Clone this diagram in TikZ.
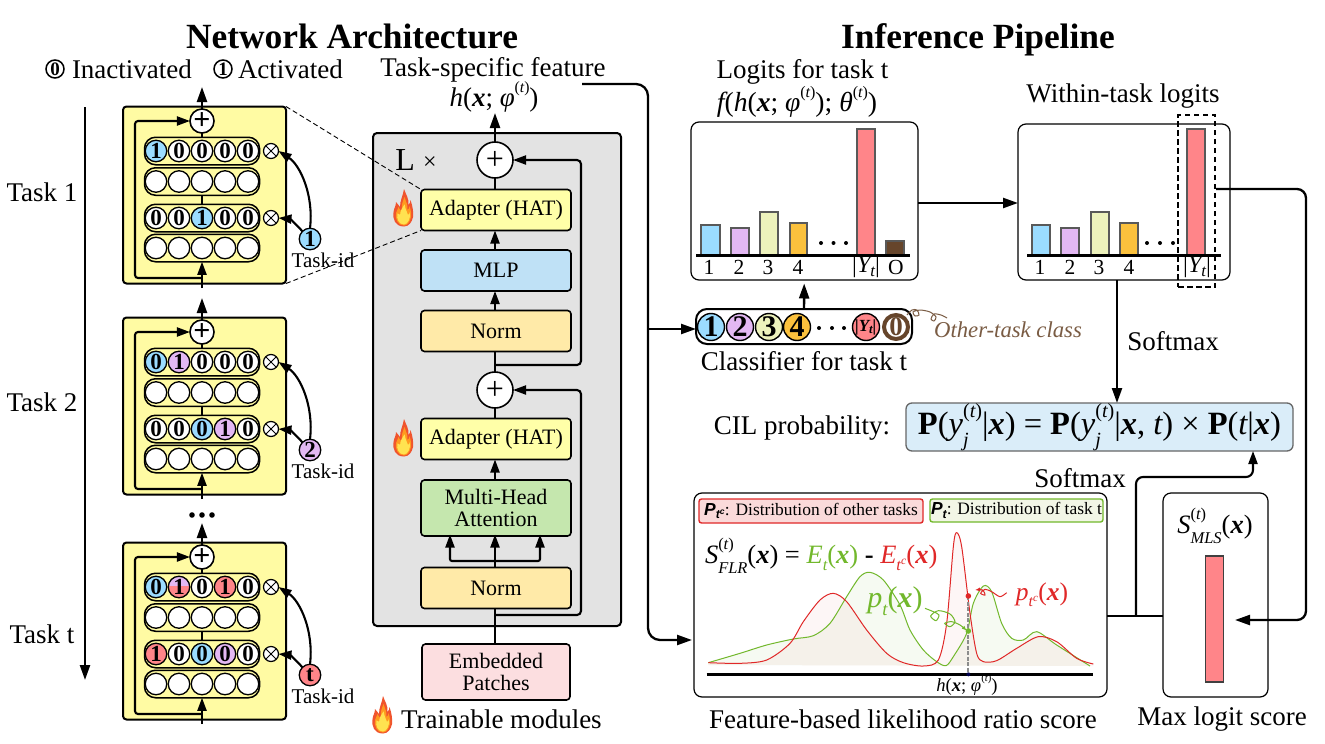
\documentclass[tikz,border=0pt]{standalone}
\usepackage{fontspec}
\setmainfont{Liberation Serif}
\newfontfamily\lsans{Liberation Sans}
\usetikzlibrary{arrows.meta,calc}
\definecolor{cblock}{HTML}{FFFBA3}
\definecolor{cadapt}{HTML}{FFFFA8}
\definecolor{cmlp}{HTML}{BFE1F6}
\definecolor{cnorm}{HTML}{FFEAA8}
\definecolor{cmha}{HTML}{C5E7AE}
\definecolor{cpatch}{HTML}{FCDEE0}
\definecolor{cgrey}{HTML}{E3E3E3}
\definecolor{cprob}{HTML}{DAEDF9}
\definecolor{cb}{HTML}{9BDCFF}
\definecolor{cp}{HTML}{E3B8F3}
\definecolor{cg}{HTML}{EDF2BC}
\definecolor{co}{HTML}{FBC13D}
\definecolor{cr}{HTML}{FF8589}
\definecolor{cbr}{HTML}{66452B}
\definecolor{cbrt}{HTML}{7A5C44}
\definecolor{gline}{HTML}{72B82C}
\definecolor{rline}{HTML}{E02828}
\definecolor{rleg}{HTML}{FADADA}
\definecolor{gleg}{HTML}{F2F6E6}
\newcommand\fsz[1]{\fontsize{#1}{#1}\selectfont}
\newcommand\bx{{\bfseries\itshape x}}
\newcommand\supsub[2]{\ooalign{\raisebox{.52em}{\scalebox{.62}{#1}}\cr\raisebox{-.38em}{\scalebox{.62}{#2}}\cr}}
\newcommand\sups[1]{\raisebox{.52em}{\scalebox{.58}{#1}}}
\newcommand\pt{{\upshape(}{\itshape t}{\upshape)}}
\newcommand\hfeat{{\itshape h}(\bx; {\itshape φ}\sups{\pt})}
\newcommand\Yt{|{\itshape Y}\raisebox{-.15em}{\scalebox{.7}{\itshape t}}|}
\tikzset{
  lbl/.style={inner sep=0pt,outer sep=0pt,font=\fsz{27},align=center},
  ttl/.style={inner sep=0pt,font=\fsz{35.4}\bfseries,anchor=base},
  line/.style={line width=2.3pt,draw=black},
  conn/.style={line width=2.3pt,draw=black,-{Triangle[length=15pt,width=10pt]}},
  smallconn/.style={line width=2.1pt,draw=black,-{Triangle[length=13pt,width=9pt]}},
  modbox/.style={draw=black,line width=1.6pt,rounded corners=3.5pt,minimum width=150pt,align=center,inner sep=0pt,outer sep=0pt,font=\fsz{22}},
  yblock/.style={draw=black,line width=2pt,fill=cblock,rounded corners=3.5pt,minimum width=163pt,minimum height=177pt,inner sep=0pt,outer sep=0pt},
  pill/.style={draw=black,line width=1.5pt,fill=cblock,rounded corners=11pt,minimum width=115pt,minimum height=27.5pt,inner sep=0pt,outer sep=0pt},
  cell/.style={circle,draw=black,line width=1.3pt,fill=white,minimum size=21.5pt,inner sep=0pt,outer sep=0pt,font=\fsz{23}\bfseries},
  fb/.style={fill=cb},fp/.style={fill=cp},fr/.style={fill=cr},fw/.style={fill=white},
  fh/.style={fill=cr,path picture={\fill[cp] ([yshift=12pt]path picture bounding box.north west) rectangle ([yshift=1.5pt]path picture bounding box.east);}},
  plusc/.style={circle,draw=black,line width=1.6pt,fill=white,minimum size=21pt,inner sep=0pt,outer sep=0pt},
  plusb/.style={plusc,minimum size=36pt},
  otim/.style={circle,draw=black,line width=1.2pt,fill=white,minimum size=15pt,inner sep=0pt,outer sep=0pt},
  idc/.style={circle,draw=black,line width=1.3pt,minimum size=21.5pt,inner sep=0pt,outer sep=0pt,font=\fsz{23}\bfseries},
  panel/.style={draw=black,line width=1.2pt,fill=white,rounded corners=8pt,inner sep=0pt,outer sep=0pt},
  barl/.style={draw=black!65,line width=1.3pt},
  axisl/.style={line width=2.3pt,draw=black},
  clsc/.style={circle,draw=black,line width=1.4pt,minimum size=27pt,inner sep=0pt,outer sep=0pt,font=\fsz{30}\bfseries},
  legbox/.style={rounded corners=2.5pt,line width=1.4pt,inner sep=0pt,outer sep=0pt,font=\fsz{17.4}},
  keyc/.style={circle,draw=black,line width=1.5pt,minimum size=18pt,inner sep=0pt,font=\fsz{19}\bfseries},
  flame/.pic={
    \fill[fill={rgb,255:red,240;green,84;blue,45}] (1,18.5) .. controls (-8,18.5) and (-10.5,11) .. (-9.5,4) .. controls (-9,0) and (-7,-2) .. (-7,-6) .. controls (-5,-4) and (-4,-2) .. (-3,-1) .. controls (-3,-8) and (0,-12) .. (1,-19) .. controls (3,-13) and (6,-10) .. (5.5,-3) .. controls (7,-5) and (7.5,-6) .. (7.5,-8) .. controls (10,-1) and (10.5,5) .. (10,9) .. controls (9,14) and (6,18.5) .. (1,18.5) -- cycle;
    \fill[fill={rgb,255:red,255;green,154;blue,31}] (1,17.5) .. controls (-5,17.5) and (-8,11) .. (-7,5) .. controls (-6,2) and (-5,1) .. (-4.5,-1) .. controls (-3,2) and (-2,3) .. (-1,3) .. controls (-2,-3) and (0,-7) .. (1.5,-11) .. controls (3,-6) and (5,-3) .. (4.5,2) .. controls (6,1) and (6.5,0) .. (6.5,-2) .. controls (8,3) and (8.5,6) .. (8,9) .. controls (7,14) and (4,17.5) .. (1,17.5) -- cycle;
    \fill[fill={rgb,255:red,255;green,226;blue,80},shift={(1,16.5)},scale=1.3,shift={(-1,-16.5)}] (1,16.5) .. controls (-3,16.5) and (-5,12) .. (-4,8) .. controls (-3,9) and (-2.5,9) .. (-2,9) .. controls (-2,6) and (0,3) .. (1.5,1) .. controls (2,5) and (3.5,7) .. (4,9) .. controls (5,9) and (5.2,8) .. (5.5,7) .. controls (6.5,11) and (4,16.5) .. (1,16.5) -- cycle;
  }
}
% task block: name, y offset, row 1 cells, row 3 cells, id colour, id text
\newcommand\taskblock[6]{%
\begin{scope}[shift={(0,#2)}]
  \node[yblock] (#1box) at (204.5,195) {};
  \node[pill] (#1r1) at (202,151) {};
  \node[pill] (#1r2) at (202,181.5) {};
  \node[pill] (#1r3) at (202,218) {};
  \node[pill] (#1r4) at (202,248) {};
  \foreach \c/\t [count=\i] in {#3} {\node[cell,\c] at ({133+23*\i},151) {\t};}
  \foreach \c/\t [count=\i] in {#4} {\node[cell,\c] at ({133+23*\i},218) {\t};}
  \foreach \i in {1,...,5} {\node[cell] at ({133+23*\i},181.5) {}; \node[cell] at ({133+23*\i},248) {};}
  \node[plusc,font=\fsz{30}\bfseries] (#1plus) at (202,121) {+};
  \node[otim] (#1o1) at (271,151) {};
  \node[otim] (#1o2) at (271,218) {};
  \draw[line width=1pt] (#1o1.north east) -- (#1o1.south west) (#1o1.north west) -- (#1o1.south east);
  \draw[line width=1pt] (#1o2.north east) -- (#1o2.south west) (#1o2.north west) -- (#1o2.south east);
  \node[idc,fill=#5] (#1id) at (310,239) {#6};
  \node[lbl,font=\fsz{21}] (#1idt) at (323,260.5) {Task-id};
  \coordinate (#1top) at (202,87);
  \coordinate (#1low) at (202,288);
  \coordinate (#1sk) at (202,278);
  \coordinate (#1skl) at (135,278);
  \draw[smallconn] (#1id.north) .. controls (314,195) and (300,165) .. (#1o1.east);
  \draw[smallconn] (#1id.north west) .. controls (298,226) and (290,219) .. (#1o2.east);
  \draw[line] (#1plus) -- (#1r1);
  \draw[line] (#1r2) -- (#1r3);
  \draw[conn] (#1plus.north) -- (#1top);
  \draw[smallconn] (#1low) -- (#1r4.south);
  \draw[smallconn,rounded corners=3pt] (#1sk) -- (#1skl) -- (#1skl |- #1plus) -- (#1plus.west);
\end{scope}}
\newcommand\barr[4]{\draw[barl,fill=#4] (#1,255) rectangle (#2,#3);}
\newcommand\threedots[3]{\fill (#1,#3) circle (2pt) (#2,#3) circle (2pt) ({(#1+#2)/2},#3) circle (2pt);}
\begin{document}
\begin{tikzpicture}[x=1pt,y=-1pt]
\useasboundingbox (0,0) rectangle (1325,744);
\fill[white] (0,0) rectangle (1325,744);
% titles
\node[ttl] (t1) at (352,48) {Network Architecture};
\node[ttl] (t2) at (978,48) {Inference Pipeline};
% key
\node[keyc] (k0) at (55,69) {0};
\node[lbl,anchor=west] (k0t) at (72,69) {Inactivated};
\node[keyc] (k1) at (223,69) {1};
\node[lbl,anchor=west] (k1t) at (238,69) {Activated};
% task axis
\node[lbl] (task1) at (42,192) {Task 1};
\node[lbl] (task2) at (42,402) {Task 2};
\node[lbl] (taskt) at (42,634) {Task t};
\coordinate (ta) at (85,107); \coordinate (tb) at (85,680);
\draw[conn] (ta) -- (tb);
% grey module
\node[draw=black,line width=2pt,fill=cgrey,rounded corners=4pt,minimum width=248pt,minimum height=493pt,inner sep=0pt,outer sep=0pt] (grey) at (497,379.5) {};
% task blocks
\taskblock{a}{0}{fb/1,fw/0,fw/0,fw/0,fw/0}{fw/0,fw/0,fb/1,fw/0,fw/0}{cb}{1}
\taskblock{b}{211}{fb/0,fp/1,fw/0,fw/0,fw/0}{fw/0,fw/0,fb/0,fp/1,fw/0}{cp}{2}
\taskblock{c}{436}{fb/0,fh/1,fw/0,fr/1,fw/0}{fr/1,fw/0,fb/0,fp/0,fw/0}{cr}{t}
\fill (192,515) circle (2.8pt) (202,515) circle (2.8pt) (212,515) circle (2.8pt);
\node[lbl,font=\fsz{32}] (lx) at (416,160) {L \raisebox{.03em}{\fsz{24}×}};
\node[modbox,fill=cadapt,minimum height=41pt] (ad1) at (496,210) {Adapter (HAT)};
\node[modbox,fill=cmlp,minimum height=41pt] (mlp) at (496,270.5) {MLP};
\node[modbox,fill=cnorm,minimum height=41pt] (nm2) at (496,331) {Norm};
\node[modbox,fill=cadapt,minimum height=41pt] (ad2) at (496,439) {Adapter (HAT)};
\node[modbox,fill=cmha,minimum height=56pt] (mha) at (496,508) {Multi-Head\\[0pt]Attention};
\node[modbox,fill=cnorm,minimum height=41pt] (nm1) at (496,588) {Norm};
\node[modbox,fill=cpatch,minimum height=56pt,minimum width=148pt] (pat) at (496,672) {Embedded\\[0pt]Patches};
\node[plusb,font=\fsz{32}] (p1) at (495,160) {+};
\node[plusb,font=\fsz{32}] (p2) at (495,390) {+};
\draw[dashed,line width=.9pt,dash pattern=on 5pt off 3pt] (abox.north east) -- (ad1.north west);
\draw[dashed,line width=.9pt,dash pattern=on 5pt off 3pt] (abox.south east) -- (ad1.south west);
% links in module
\coordinate (ftop) at (495,113);
\draw[conn] (p1.north) -- (ftop);
\draw[line] (ad1.north -| p1) -- (p1.south);
\draw[smallconn] (mlp.north -| p1) -- (ad1.south -| p1);
\draw[smallconn] (nm2.north -| p1) -- (mlp.south -| p1);
\draw[line] (p2.north) -- (nm2.south -| p2);
\draw[line] (ad2.north -| p2) -- (p2.south);
\draw[smallconn] (mha.north -| p2) -- (ad2.south -| p2);
\coordinate (js) at (495,561); \coordinate (jl) at (450,561); \coordinate (jr) at (540,561);
\draw[smallconn,shorten >=-1.5pt] (nm1.north -| p2) -- (mha.south -| p2);
\draw[smallconn,rounded corners=2pt,shorten >=-1.5pt] (js) -- (jl) -- (jl |- mha.south);
\draw[smallconn,rounded corners=2pt,shorten >=-1.5pt] (js) -- (jr) -- (jr |- mha.south);
\draw[line] (pat.north -| p2) -- (nm1.south -| p2);
\coordinate (s1a) at (495,365); \coordinate (s1b) at (581,365);
\draw[smallconn,rounded corners=4pt] (s1a) -- (s1b) -- (s1b |- p1) -- (p1.east);
\coordinate (s2a) at (495,615); \coordinate (s2b) at (581,615);
\draw[smallconn,rounded corners=4pt] (s2a) -- (s2b) -- (s2b |- p2) -- (p2.east);
% flames
\pic at (403,208) {flame};
\pic at (403,438) {flame};
\pic at (382,715) {flame};
\node[lbl,anchor=west] (tm) at (401,719) {Trainable modules};
% feature labels
\node[lbl] (tsf) at (493,70) {Task-specific feature};
\node[lbl] (hf) at (494,97) {\hfeat};
% inference panels
\node[panel,minimum width=227pt,minimum height=158pt] (logits) at (804.5,201) {};
\node[panel,minimum width=212pt,minimum height=156pt] (within) at (1124,202) {};
\node[panel,minimum width=413pt,minimum height=204pt] (flr) at (900.5,595) {};
\node[panel,minimum width=105pt,minimum height=204pt] (mls) at (1215.5,595) {};
\node[lbl] (lt1) at (802.5,72) {Logits for task t};
\node[lbl,font=\fsz{27.6}] (lt2) at (797,102) {{\itshape f}({\itshape h}(\bx; {\itshape φ}\sups{\pt}); {\itshape θ}\sups{\pt})};
\node[lbl] (wt) at (1123,96.5) {Within-task logits};
% logits bars
\barr{701}{720}{225}{cb}\barr{731}{749}{228}{cp}\barr{760}{778}{212}{cg}\barr{790}{807}{223}{co}\barr{857}{875}{129}{cr}\barr{886}{904}{241}{cbr}
\threedots{821}{846}{243}
\coordinate (la) at (696,255.5); \coordinate (lb) at (910,255.5);
\draw[axisl] (la) -- (lb);
\foreach \x/\t in {709/1,739/2,768/3,798/4,896/O} {\node[lbl,font=\fsz{21.5}] at (\x,267) {\t};}
\node[lbl,font=\fsz{24}] (ly) at (866,267) {\Yt};
% within bars
\barr{1032}{1050}{225}{cb}\barr{1061}{1079}{228}{cp}\barr{1091}{1109}{212}{cg}\barr{1120}{1138}{223}{co}\barr{1187}{1205}{129}{cr}
\threedots{1147}{1173}{243}
\coordinate (wa) at (1027,255.5); \coordinate (wb) at (1221,255.5);
\draw[axisl] (wa) -- (wb);
\foreach \x/\t in {1040/1,1070/2,1099/3,1129/4} {\node[lbl,font=\fsz{21.5}] at (\x,267) {\t};}
\node[lbl,font=\fsz{24}] (wy) at (1197,267) {\Yt};
\node[draw=black,line width=2pt,dash pattern=on 5.5pt off 3.5pt,minimum width=37pt,minimum height=172pt,inner sep=0pt,outer sep=0pt] (dbox) at (1196.5,201) {};
% classifier
\node[draw=black,line width=2pt,fill=white,rounded corners=11pt,minimum width=216pt,minimum height=35pt,inner sep=0pt,outer sep=0pt] (cls) at (804,326.5) {};
\node[clsc,fill=cb] (c1) at (711,327) {1};
\node[clsc,fill=cp] (c2) at (740,327) {2};
\node[clsc,fill=cg] (c3) at (769,327) {3};
\node[clsc,fill=co] (c4) at (797,327) {4};
\fill (819,328) circle (2pt) (832,328) circle (2pt) (844,328) circle (2pt);
\node[clsc,fill=cr,font=\fsz{17}\bfseries\itshape] (c5) at (866,327) {\kern-.5pt\raisebox{.02em}{|Y\raisebox{-.12em}{\scalebox{.75}{t}}|}};
\node[clsc,fill=white,draw=cbr,line width=4pt,minimum size=24pt,text=cbr,font=\fsz{27}\bfseries] (c6) at (896,327) {0};
\node[lbl] (clst) at (804,361) {Classifier for task t};
\node[lbl,font=\fsz{22.7}\itshape,text=cbrt] (ot) at (1008,330) {Other-task class};
\draw[cbrt,line width=1pt,smooth] plot coordinates {(907,315) (912,310) (917,310) (919,315) (915,316) (913,312) (920,310) (930,312) (936,317) (934,321) (931,319) (934,314) (941,315) (947,318)};
\draw[conn,shorten >=3.5pt] (cls) -- (logits);
\coordinate (wi) at (1018,203);
\draw[conn] (logits.east |- wi) -- (wi);
% probability
\node[lbl] (cil) at (802,428) {CIL probability:};
\node[draw=black!60,line width=1.3pt,fill=cprob,rounded corners=6pt,minimum width=387pt,minimum height=48pt,inner sep=0pt,outer sep=0pt,font=\fsz{32.5}] (prob) at (1099.5,427) {\textbf{P}({\itshape y}\supsub{\pt}{\itshape j}|\bx) = \textbf{P}({\itshape y}\supsub{\pt}{\itshape j}|\bx, {\itshape t}) × \textbf{P}({\itshape t}|\bx)};
\coordinate (sx) at (1117,340);
\draw[conn] (sx |- within.south) -- (sx |- prob.north);
\node[lbl] (sm1) at (1173,341) {Softmax};
\node[lbl] (sm2) at (1080,478) {Softmax};
% FLR panel
\node[legbox,draw=rline,fill=rleg,minimum width=224pt,minimum height=24pt] (lr) at (811,511) {{\lsans\bfseries\itshape P\raisebox{-.2em}{\scalebox{.7}{t\textsuperscript{c}}}}: Distribution of other tasks};
\node[legbox,draw=gline,fill=gleg,minimum width=173pt,minimum height=23pt] (lg) at (1016.5,510.5) {{\lsans\bfseries\itshape P\raisebox{-.2em}{\scalebox{.7}{t}}}: Distribution of task t};
\node[lbl,font=\fsz{26.5},anchor=west] (form) at (705,556) {{\itshape S}\supsub{\pt}{\itshape FLR}(\bx) = \textcolor{gline}{{\itshape E}\raisebox{-.25em}{\scalebox{.62}{\itshape t}}(\bx)} \textbf{-} \textcolor{rline}{{\itshape E}\raisebox{-.25em}{\scalebox{.62}{\itshape t\textsuperscript{c}}}(\bx)}};
\begin{scope}[shift={(690,490)},x=.33333pt,y=-.33333pt]
  \fill[gline,fill opacity=.06,smooth] plot coordinates {(55,518) (150,490) (230,465) (310,447) (370,437) (420,400) (470,320) (510,260) (540,247) (580,270) (630,345) (660,420) (700,480) (740,515) (768,527) (790,500) (830,430) (850,340) (880,288) (905,305) (935,400) (965,445) (1000,450) (1040,425) (1100,465) (1200,528)} -- (1200,528) -- (55,525) -- cycle;
  \fill[rline,fill opacity=.04,smooth] plot coordinates {(55,518) (150,520) (230,510) (300,460) (340,395) (390,330) (430,310) (470,335) (530,420) (590,490) (640,518) (700,528) (745,510) (770,400) (790,170) (800,128) (815,170) (840,370) (860,490) (880,515) (920,512) (980,475) (1045,440) (1100,455) (1160,505) (1210,522)} -- (1210,528) -- (55,525) -- cycle;
  \draw[gline,line width=1pt,smooth] plot coordinates {(55,518) (150,490) (230,465) (310,447) (370,437) (420,400) (470,320) (510,260) (540,247) (580,270) (630,345) (660,420) (700,480) (740,515) (768,527) (790,500) (830,430) (850,340) (880,288) (905,305) (935,400) (965,445) (1000,450) (1040,425) (1100,465) (1200,528)};
  \draw[rline,line width=1pt,smooth] plot coordinates {(55,518) (150,520) (230,510) (300,460) (340,395) (390,330) (430,310) (470,335) (530,420) (590,490) (640,518) (700,528) (745,510) (770,400) (790,170) (800,128) (815,170) (840,370) (860,490) (880,515) (920,512) (980,475) (1045,440) (1100,455) (1160,505) (1210,522)};
  \coordinate (axa) at (50,553); \coordinate (axb) at (1208,553);
  \coordinate (dr) at (835,318); \coordinate (dg) at (835,423); \coordinate (dk) at (835,553);
  \draw[axisl,line width=2.4pt] (axa) -- (axb);
  \draw[draw=black!45,line width=2.3pt,dash pattern=on 4pt off 1.5pt] (dr) -- (dk);
  \fill[rline] (dr) circle (2.8pt);
  \fill[gline] (dg) circle (2.8pt);
  \fill[black!70!blue] (dk) circle (2pt);
  \draw[gline,line width=1pt,smooth,-{Latex[length=5pt,width=4pt]}] plot coordinates {(705,355) (730,365) (747,375) (738,392) (722,378) (745,362) (780,372) (795,395) (780,410) (764,400) (785,395) (810,405) (830,422)};
  \draw[rline,line width=1pt,smooth,-{Latex[length=5pt,width=4pt]}] plot coordinates {(950,308) (930,320) (905,305) (885,298) (872,310) (885,315) (878,300) (855,300)};
\end{scope}
\node[lbl,font=\fsz{30},text=gline] (pg) at (895,601) {{\itshape p}\raisebox{-.25em}{\scalebox{.62}{\itshape t}}(\bx)};
\node[lbl,font=\fsz{25.5},text=rline] (pr) at (1042,595) {{\itshape p}\raisebox{-.25em}{\scalebox{.62}{\itshape t\textsuperscript{c}}}(\bx)};
\node[lbl,font=\fsz{18.6}] (hl) at (967,685) {\hfeat};
\node[lbl] (flrt) at (903,719) {Feature-based likelihood ratio score};
% MLS
\node[lbl,font=\fsz{26.5}] (mlst) at (1215,526) {{\itshape S}\supsub{\pt}{\itshape MLS}(\bx)};
\node[draw=black!75,line width=1.2pt,fill=cr,minimum width=18pt,minimum height=126pt,inner sep=0pt,outer sep=0pt] (mbar) at (1214.5,619) {};
\node[lbl] (mlt) at (1222,719) {Max logit score};
% long connectors
\coordinate (fa) at (582,84); \coordinate (fb) at (648,84); \coordinate (fc) at (648,640);
\coordinate (fd) at (692,640);
\draw[conn,rounded corners=12pt] (fa) -- (fb) -- (fc) -- (fd);
\coordinate (br) at (648,329);
\draw[conn] (br) -- (cls.west |- br);
\coordinate (ra) at (1216,189); \coordinate (rb) at (1306,189); \coordinate (rc) at (1306,620); \coordinate (rd) at (1235,620);
\draw[conn,rounded corners=9pt] (ra) -- (rb) -- (rc) -- (rd);
\coordinate (oa) at (1107,616); \coordinate (ob) at (1163,616); \coordinate (oc) at (1136,616); \coordinate (od) at (1136,477); \coordinate (oe) at (1253,477);
\draw[line] (flr.east |- oa) -- (mls.west |- ob);
\draw[smallconn,rounded corners=7pt] (oc) -- (od) -- (oe) -- (oe |- prob.south);
\end{tikzpicture}
\end{document}
